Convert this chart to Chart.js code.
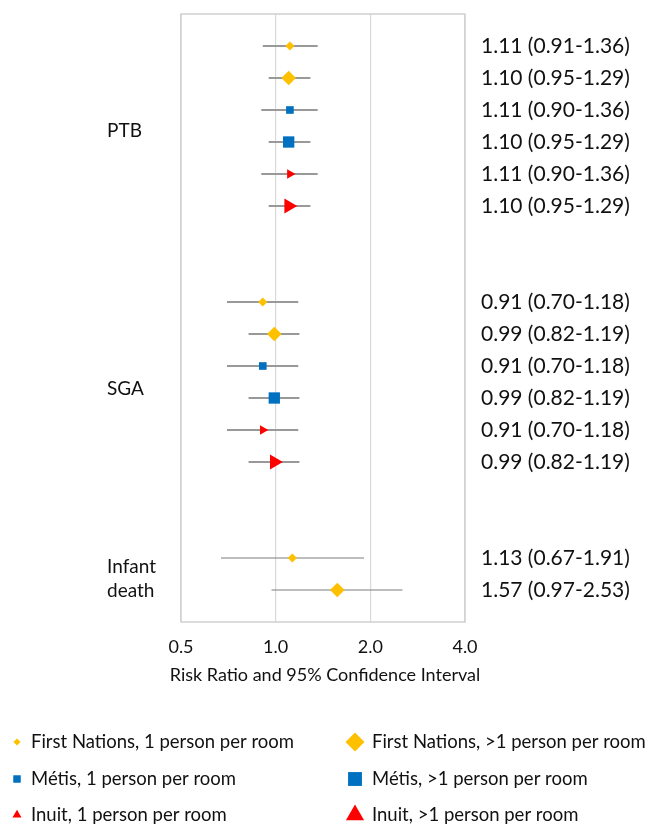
<!DOCTYPE html>
<html>
<head>
<meta charset="utf-8">
<title>Risk ratios by household crowding</title>
<script src="https://cdn.jsdelivr.net/npm/chart.js"></script>
<style>
  body { margin: 0; background: #fff; }
  canvas { display: block; }
</style>
</head>
<body>
<canvas id="forest" width="661" height="826"></canvas>
<script>
// Series (one per marker type)
const seriesNames = [
    'First Nations, 1 person per room',
    'First Nations, >1 person per room',
    'Métis, 1 person per room',
    'Métis, >1 person per room',
    'Inuit, 1 person per room',
    'Inuit, >1 person per room'
];
const seriesColors = ['#FFC000', '#FFC000', '#0070C0', '#0070C0', '#FF0000', '#FF0000'];
const seriesStyles = ['rectRot', 'rectRot', 'rect', 'rect', 'triangle', 'triangle'];

// Outcome groups
const groupLabels = ['PTB', 'SGA', ['Infant', 'death']];
const groupTickPos = [2.65, 10.7, 16.65];

// One entry per row of the plot
const rowPos = [0, 1, 2, 3, 4, 5, 8, 9, 10, 11, 12, 13, 16, 17];
const rowSeries = [0, 1, 2, 3, 4, 5, 0, 1, 2, 3, 4, 5, 0, 1];
const riskRatio = [1.11, 1.10, 1.11, 1.10, 1.11, 1.10, 0.91, 0.99, 0.91, 0.99, 0.91, 0.99, 1.13, 1.57];
const ciLow = [0.91, 0.95, 0.90, 0.95, 0.90, 0.95, 0.70, 0.82, 0.70, 0.82, 0.70, 0.82, 0.67, 0.97];
const ciHigh = [1.36, 1.29, 1.36, 1.29, 1.36, 1.29, 1.18, 1.19, 1.18, 1.19, 1.18, 1.19, 1.91, 2.53];

// x axis ticks
const xTicks = [0.5, 1, 2, 4];
const xTitle = 'Risk Ratio and 95% Confidence Interval';

const FONT = 'Lato';
Chart.defaults.font.family = FONT;
Chart.defaults.color = '#111';

const ciLabels = riskRatio.map((v, i) =>
    `${v.toFixed(2)} (${ciLow[i].toFixed(2)}-${ciHigh[i].toFixed(2)})`);

// marker sizes: plot / legend
const plotRadius = [4.6, 7.3, 5.4, 8, 5.6, 8.6];
const legendRadius = [3.6, 9.5, 5.3, 9.8, 5.2, 10.5];

const datasets = seriesNames.map((name, s) => ({
    label: name,
    data: rowPos.map((y, i) => ({ x: riskRatio[i], y: y })).filter((p, i) => rowSeries[i] === s),
    pointStyle: seriesStyles[s],
    pointRadius: plotRadius[s],
    pointHoverRadius: plotRadius[s],
    pointRotation: seriesStyles[s] === 'triangle' ? 90 : 0,
    backgroundColor: seriesColors[s],
    borderColor: seriesColors[s],
    borderWidth: 0
}));

// confidence interval whiskers, drawn under the markers
const whiskers = {
    id: 'whiskers',
    beforeDatasetsDraw(chart) {
        const { ctx, scales: { x, y } } = chart;
        ctx.save();
        rowPos.forEach((r, i) => {
            const infant = r >= 16;
            ctx.strokeStyle = infant ? '#7f7f7f' : '#999999';
            ctx.lineWidth = infant ? 1.2 : 2;
            ctx.beginPath();
            ctx.moveTo(x.getPixelForValue(ciLow[i]), y.getPixelForValue(r));
            ctx.lineTo(x.getPixelForValue(ciHigh[i]), y.getPixelForValue(r));
            ctx.stroke();
        });
        ctx.restore();
    }
};

// frame round the plot area, plus the x title (wider than the plot, so not the axis title)
const frame = {
    id: 'frame',
    afterDraw(chart) {
        const { ctx, chartArea: a } = chart;
        ctx.save();
        ctx.strokeStyle = '#d0d0d0';
        ctx.lineWidth = 1.5;
        ctx.strokeRect(a.left, a.top, a.right - a.left, a.bottom - a.top);
        ctx.fillStyle = '#111';
        ctx.font = `18px ${FONT}`;
        ctx.textAlign = 'center';
        ctx.textBaseline = 'middle';
        ctx.fillText(xTitle, (a.left + a.right) / 2 + 2, a.bottom + 53);
        ctx.restore();
    }
};

// two-column legend with real marker sizes
const bigLegend = {
    id: 'bigLegend',
    afterDraw(chart) {
        const { ctx } = chart;
        const colMarker = [17, 355];
        const colText = [31, 372];
        const rowY = [742, 779, 815];
        ctx.save();
        ctx.font = `18.5px ${FONT}`;
        ctx.textBaseline = 'middle';
        ctx.textAlign = 'left';
        seriesNames.forEach((name, s) => {
            const col = s % 2, row = Math.floor(s / 2);
            ctx.fillStyle = seriesColors[s];
            Chart.helpers.drawPoint(ctx, {
                pointStyle: seriesStyles[s], radius: legendRadius[s], rotation: 0, borderWidth: 0
            }, colMarker[col], rowY[row]);
            ctx.fillStyle = '#111';
            ctx.fillText(name, colText[col], rowY[row]);
        });
        ctx.restore();
    }
};

// vertical axes: no extra room for first/last label
const noEdgePad = width => scale => {
    scale.width = width;
    scale.paddingTop = 0;
    scale.paddingBottom = 0;
};

new Chart(document.getElementById('forest'), {
    type: 'scatter',
    data: { datasets },
    options: {
        responsive: false,
        animation: false,
        layout: { padding: { left: 107, top: 14, right: 0, bottom: 134 } },
        plugins: {
            legend: { display: false },
            tooltip: { enabled: false }
        },
        scales: {
            x: {
                type: 'logarithmic',
                min: 0.5,
                max: 4,
                afterBuildTicks: scale => { scale.ticks = xTicks.map(v => ({ value: v })); },
                afterFit: scale => { scale.height = 70; },
                grid: { color: '#d9d9d9', lineWidth: 1.2, drawTicks: false },
                border: { display: false },
                ticks: {
                    autoSkip: false,
                    maxRotation: 0,
                    padding: 14,
                    font: { size: 18 },
                    callback: v => Number(v).toFixed(1)
                }
            },
            y: {
                type: 'linear',
                min: -1,
                max: 18,
                reverse: true,
                afterBuildTicks: scale => { scale.ticks = groupTickPos.map(v => ({ value: v })); },
                afterFit: noEdgePad(74),
                grid: { display: false },
                border: { display: false },
                ticks: {
                    autoSkip: false,
                    crossAlign: 'far',
                    padding: 0,
                    font: { size: 19, lineHeight: 1.3 },
                    callback: (v, i) => groupLabels[i]
                }
            },
            y2: {
                type: 'linear',
                position: 'right',
                min: -1,
                max: 18,
                reverse: true,
                afterBuildTicks: scale => { scale.ticks = rowPos.map(v => ({ value: v })); },
                afterFit: noEdgePad(196),
                grid: { display: false },
                border: { display: false },
                ticks: {
                    autoSkip: false,
                    padding: 8,
                    font: { size: 21 },
                    callback: (v, i) => ciLabels[i]
                }
            }
        }
    },
    plugins: [whiskers, frame, bigLegend]
});
</script>
</body>
</html>
